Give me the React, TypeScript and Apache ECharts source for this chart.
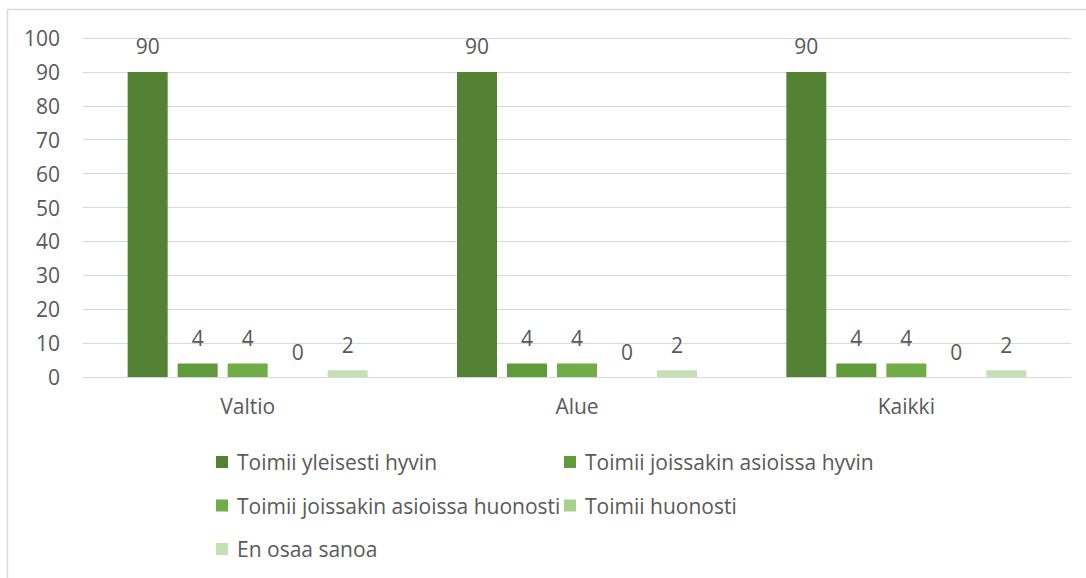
import React, { useEffect, useRef } from "react";
import * as echarts from "echarts";

const categories = ["Valtio", "Alue", "Kaikki"];
const seriesNames = [
  "Toimii yleisesti hyvin",
  "Toimii joissakin asioissa hyvin",
  "Toimii joissakin asioissa huonosti",
  "Toimii huonosti",
  "En osaa sanoa",
];
const yleisestiHyvin = [90, 90, 90];
const joissakinHyvin = [4, 4, 4];
const joissakinHuonosti = [4, 4, 4];
const huonosti = [0, 0, 0];
const enOsaa = [2, 2, 2];
const seriesValues = [yleisestiHyvin, joissakinHyvin, joissakinHuonosti, huonosti, enOsaa];
const seriesColors = ["#548235", "#5f9b3b", "#70ad47", "#a9d18e", "#c5e0b4"];
const yTicks = [0, 10, 20, 30, 40, 50, 60, 70, 80, 90, 100];

const FONT = "'Open Sans', 'Noto Sans', sans-serif";
const TEXT = "#595959";

export default function App() {
  const ref = useRef<HTMLDivElement>(null);
  useEffect(() => {
    document.body.style.margin = "0";
    const chart = echarts.init(ref.current!, undefined, { renderer: "svg" });
    const legendText = {
      color: TEXT,
      fontFamily: FONT,
      fontSize: 21,
      lineHeight: 22,
      padding: [0, 0, 0, 4],
    };
    chart.setOption({
      animation: false,
      backgroundColor: "#ffffff",
      textStyle: { fontFamily: FONT },
      graphic: [
        {
          type: "rect",
          shape: { x: 7.5, y: 9.5, width: 1200, height: 700 },
          style: { fill: "none", stroke: "#d9d9d9", lineWidth: 1.5 },
          silent: true,
        },
      ],
      grid: { left: 83, right: 15, top: 38, bottom: 201, containLabel: false },
      xAxis: {
        type: "category",
        data: categories,
        axisLine: { show: true, lineStyle: { color: "#d9d9d9", width: 1 } },
        axisTick: { show: false },
        axisLabel: { color: TEXT, fontFamily: FONT, fontSize: 21, margin: 18 },
        splitLine: { show: false },
      },
      yAxis: {
        type: "value",
        min: yTicks[0],
        max: yTicks[yTicks.length - 1],
        interval: 10,
        axisLine: { show: false },
        axisTick: { show: false },
        axisLabel: { color: TEXT, fontFamily: FONT, fontSize: 21, margin: 23 },
        splitLine: { show: true, lineStyle: { color: "#d9d9d9", width: 1 } },
      },
      legend: [
        {
          orient: "vertical",
          left: 216,
          top: 451,
          padding: 0,
          itemWidth: 12,
          itemHeight: 12,
          itemGap: 21.5,
          icon: "rect",
          data: [seriesNames[0], seriesNames[2], seriesNames[4]],
          textStyle: legendText,
          selectedMode: false,
        },
        {
          orient: "vertical",
          left: 564,
          top: 451,
          padding: 0,
          itemWidth: 12,
          itemHeight: 12,
          itemGap: 21.5,
          icon: "rect",
          data: [seriesNames[1], seriesNames[3]],
          textStyle: legendText,
          selectedMode: false,
        },
      ],
      series: seriesNames.map((name, i) => ({
        name,
        type: "bar",
        data: seriesValues[i],
        barWidth: 40,
        barGap: "25%",
        itemStyle: { color: seriesColors[i] },
        label: {
          show: true,
          position: "top",
          distance: 15,
          color: TEXT,
          fontFamily: FONT,
          fontSize: 21,
        },
      })),
    });
    return () => chart.dispose();
  }, []);
  return <div ref={ref} style={{ width: 1086, height: 578 }} />;
}
